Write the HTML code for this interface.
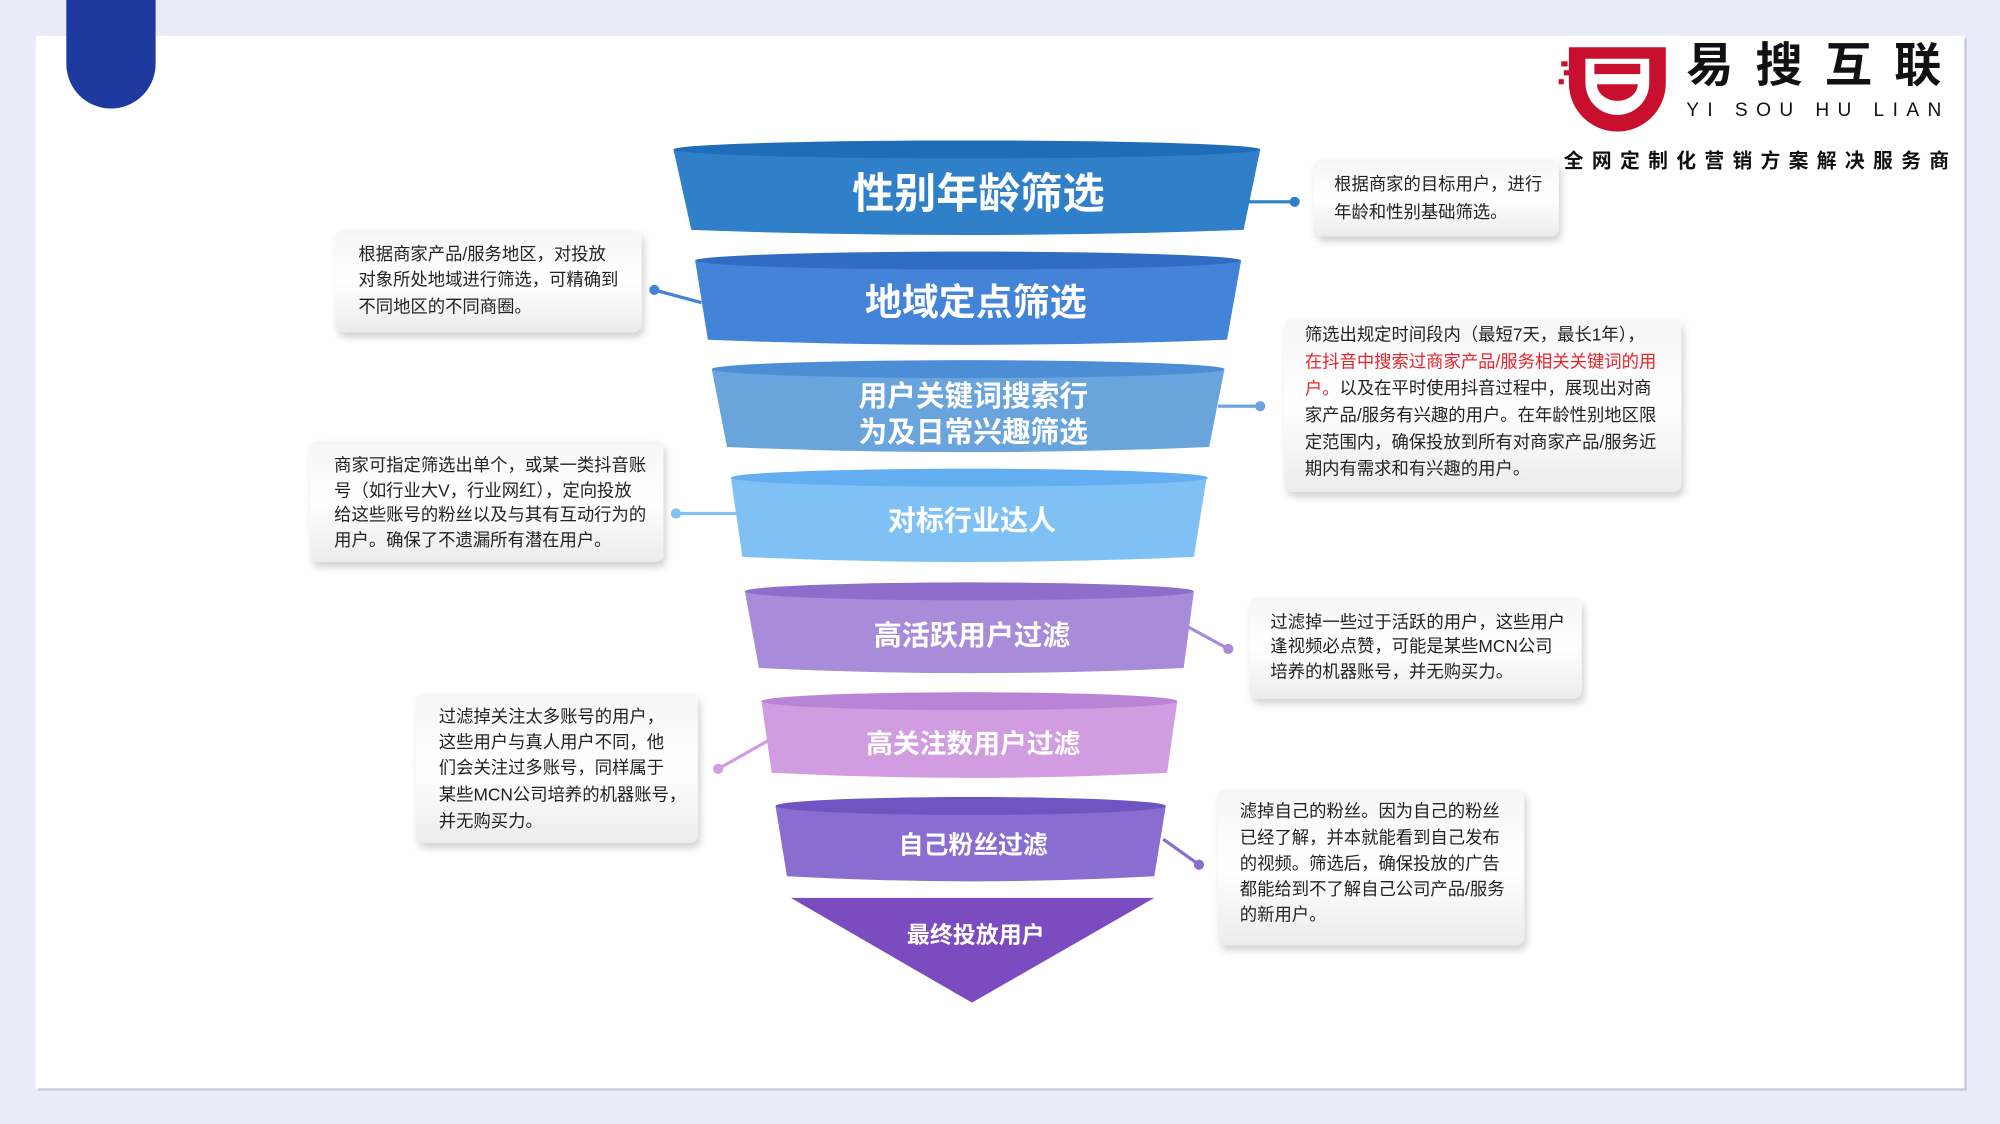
<!DOCTYPE html>
<html><head><meta charset="utf-8"><style>
html,body{margin:0;padding:0;background:#e9ebf8;}
svg{display:block;}
text{font-family:"Liberation Sans","Noto Sans CJK SC",sans-serif;}
</style></head><body>
<svg width="2000" height="1124" viewBox="0 0 1568 880" preserveAspectRatio="none" xmlns="http://www.w3.org/2000/svg">
<defs>
<linearGradient id="bx" x1="0" y1="0" x2="0" y2="1"><stop offset="0" stop-color="#f6f6f6"/><stop offset="0.5" stop-color="#ffffff"/><stop offset="1" stop-color="#ececec"/></linearGradient>
<filter id="sh" x="-10%" y="-10%" width="130%" height="140%"><feDropShadow dx="2" dy="4" stdDeviation="3" flood-color="#000" flood-opacity="0.18"/></filter>
</defs>
<rect width="1568" height="880" fill="#e9ebf8"/>
<rect x="30" y="30" width="1512" height="824" fill="#c9cbd8"/>
<rect x="28" y="28" width="1512" height="824" fill="#ffffff"/>
<path d="M52 0 H122 V50 A35 35 0 0 1 52 50 Z" fill="#1f3a9e"/>
<!-- logo -->
<g>
<path d="M1230 37 H1306 V65 A38 38 0 0 1 1230 65 Z" fill="#c8102e"/>
<path d="M1243 46 H1293 V65 A25 25 0 0 1 1243 65 Z" fill="#fff"/>
<rect x="1250" y="50" width="36" height="8" fill="#c8102e"/>
<path d="M1252 66 H1284 A16 13 0 0 1 1252 66 Z" fill="#c8102e"/>
<rect x="1224" y="48" width="5" height="4" fill="#c8102e"/><rect x="1226" y="55" width="5" height="4" fill="#c8102e"/><rect x="1222" y="62" width="4" height="4" fill="#c8102e"/>
<text x="1322" y="64" font-size="37" font-weight="bold" fill="#111" textLength="200" lengthAdjust="spacing">易搜互联</text>
<text x="1322" y="91" font-size="15" fill="#111" textLength="200" lengthAdjust="spacing">YI SOU HU LIAN</text>
<text x="1226" y="131" font-size="15.5" font-weight="bold" fill="#111" textLength="302" lengthAdjust="spacing">全网定制化营销方案解决服务商</text>
</g>
<!-- funnel -->
<g>
<path d="M528 117 Q758 103 988 117 L975 180 Q758 188 542 180 Z" fill="#2f7fc9"/>
<ellipse cx="758" cy="117" rx="230" ry="7" fill="#1f6cb8"/>
<path d="M545 204 Q759 190 973 204 L962 266 Q759 274 555 266 Z" fill="#4383d8"/>
<ellipse cx="759" cy="204" rx="214" ry="7" fill="#2f6cc2"/>
<path d="M558 289 Q759 275 960 289 L948 350 Q759 358 570 350 Z" fill="#6aa4dd"/>
<ellipse cx="759" cy="289" rx="201" ry="7" fill="#4c8ed6"/>
<path d="M573 374 Q760 360 946 374 L936 436 Q760 444 582 436 Z" fill="#80c1f5"/>
<ellipse cx="760" cy="374" rx="187" ry="7" fill="#62aef0"/>
<path d="M584 463 Q760 449 936 463 L928 523 Q760 531 595 523 Z" fill="#a88bd9"/>
<ellipse cx="760" cy="463" rx="176" ry="7" fill="#8d6fcb"/>
<path d="M597 549 Q760 535 923 549 L915 605 Q760 613 605 605 Z" fill="#d29ce1"/>
<ellipse cx="760" cy="549" rx="163" ry="7" fill="#b983d6"/>
<path d="M608 631 Q761 617 914 631 L905 686 Q761 694 617 686 Z" fill="#8a6dd0"/>
<ellipse cx="761" cy="631" rx="153" ry="7" fill="#6e55c2"/>
<path d="M620 703 L905 703 L762 785 Z" fill="#7b4bc0"/>
<g fill="#fff" font-weight="bold" text-anchor="middle" dominant-baseline="middle">
<text x="767" y="154" font-size="33">性别年龄筛选</text>
<text x="765" y="239" font-size="29">地域定点筛选</text>
<text x="763" y="312" font-size="22.5">用户关键词搜索行</text>
<text x="763" y="340" font-size="22.5">为及日常兴趣筛选</text>
<text x="762" y="409" font-size="22">对标行业达人</text>
<text x="762" y="499" font-size="22">高活跃用户过滤</text>
<text x="763" y="584" font-size="21">高关注数用户过滤</text>
<text x="763" y="663" font-size="19.5">自己粉丝过滤</text>
<text x="765" y="733" font-size="18">最终投放用户</text>
</g>
</g>
<!-- connectors -->
<g stroke-width="2.5">
<line x1="978" y1="158" x2="1015" y2="158" stroke="#2f7fc9"/><circle cx="1015" cy="158" r="4" fill="#2f7fc9"/>
<line x1="513" y1="227" x2="550" y2="237" stroke="#4383d8"/><circle cx="513" cy="227" r="4" fill="#4383d8"/>
<line x1="955" y1="318" x2="988" y2="318" stroke="#6aa4dd"/><circle cx="988" cy="318" r="4" fill="#6aa4dd"/>
<line x1="530" y1="402" x2="578" y2="402" stroke="#80c1f5"/><circle cx="530" cy="402" r="4" fill="#80c1f5"/>
<line x1="930" y1="490" x2="963" y2="508" stroke="#a88bd9"/><circle cx="963" cy="508" r="4" fill="#a88bd9"/>
<line x1="563" y1="602" x2="602" y2="580" stroke="#d29ce1"/><circle cx="563" cy="602" r="4" fill="#d29ce1"/>
<line x1="912" y1="657" x2="940" y2="677" stroke="#8a6dd0"/><circle cx="940" cy="677" r="4" fill="#8a6dd0"/>
</g>
<!-- boxes -->
<g filter="url(#sh)" fill="url(#bx)">
<rect x="1030" y="125" width="192" height="60" rx="6"/>
<rect x="263" y="180" width="240" height="80" rx="6"/>
<rect x="1007" y="250" width="311" height="135" rx="6"/>
<rect x="243" y="345" width="277" height="95" rx="6"/>
<rect x="980" y="468" width="260" height="79" rx="6"/>
<rect x="326" y="543" width="221" height="117" rx="6"/>
<rect x="955" y="618" width="240" height="122" rx="6"/>
</g>
<g font-size="13.6" fill="#222" dominant-baseline="middle">
<text x="1046" y="145">根据商家的目标用户，进行</text>
<text x="1046" y="167">年龄和性别基础筛选。</text>
<text x="281" y="200">根据商家产品/服务地区，对投放</text>
<text x="281" y="220">对象所处地域进行筛选，可精确到</text>
<text x="281" y="241">不同地区的不同商圈。</text>
<text x="1023" y="263">筛选出规定时间段内（最短7天，最长1年），</text>
<text x="1023" y="284" fill="#e8252c">在抖音中搜索过商家产品/服务相关关键词的用</text>
<text x="1023" y="305"><tspan fill="#e8252c">户。</tspan>以及在平时使用抖音过程中，展现出对商</text>
<text x="1023" y="326">家产品/服务有兴趣的用户。在年龄性别地区限</text>
<text x="1023" y="347">定范围内，确保投放到所有对商家产品/服务近</text>
<text x="1023" y="368">期内有需求和有兴趣的用户。</text>
<text x="262" y="365">商家可指定筛选出单个，或某一类抖音账</text>
<text x="262" y="385">号（如行业大V，行业网红），定向投放</text>
<text x="262" y="404">给这些账号的粉丝以及与其有互动行为的</text>
<text x="262" y="424">用户。确保了不遗漏所有潜在用户。</text>
<text x="996" y="488">过滤掉一些过于活跃的用户，这些用户</text>
<text x="996" y="507">逢视频必点赞，可能是某些MCN公司</text>
<text x="996" y="527">培养的机器账号，并无购买力。</text>
<text x="344" y="562">过滤掉关注太多账号的用户，</text>
<text x="344" y="582">这些用户与真人用户不同，他</text>
<text x="344" y="602">们会关注过多账号，同样属于</text>
<text x="344" y="623">某些MCN公司培养的机器账号，</text>
<text x="344" y="644">并无购买力。</text>
<text x="972" y="636">滤掉自己的粉丝。因为自己的粉丝</text>
<text x="972" y="657">已经了解，并本就能看到自己发布</text>
<text x="972" y="677">的视频。筛选后，确保投放的广告</text>
<text x="972" y="697">都能给到不了解自己公司产品/服务</text>
<text x="972" y="717">的新用户。</text>
</g>
</svg>
</body></html>
